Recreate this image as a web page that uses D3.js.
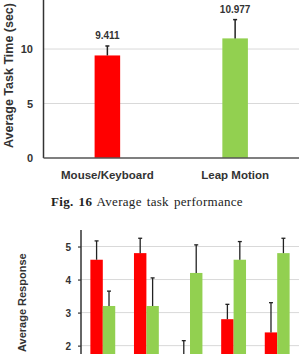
<!DOCTYPE html>
<html lang="en">
<head>
<meta charset="utf-8">
<script src="https://d3js.org/d3.v7.min.js"></script>
<style>
body { margin: 0; background: #fff; }
svg { display: block; }
.lbl { font-family: "Liberation Sans", Arial, sans-serif; font-weight: bold; fill: #333; }
.cap { font-family: "Liberation Serif", "Times New Roman", serif; fill: #222; }
</style>
</head>
<body>
<div id="chart"></div>
<script>
// top chart: average task time
var taskCats = ["Mouse/Keyboard", "Leap Motion"];
var taskMeans = [9.411, 10.977];
var taskErrTop = [10.28, 12.7];
var taskTicks = [0, 5, 10];

// bottom chart: average response (two series, 5 questions)
var respGroups = ["Q1", "Q2", "Q3", "Q4", "Q5"];
var respMouse = [4.6, 4.8, 1.6, 2.8, 2.4];
var respMouseErr = [5.17, 5.25, 2.15, 3.25, 3.3];
var respLeap = [3.2, 3.2, 4.2, 4.6, 4.8];
var respLeapErr = [3.65, 4.05, 5.05, 5.15, 5.25];
var respTicks = [2, 3, 4, 5];

var colorList = ["#ff0000", "#92d050"];

let width = 299;
let height = 354;

let svg = d3.select("#chart")
    .append("svg")
    .attr("width", width)
    .attr("height", height);

//---- top chart
let x1 = d3.scaleBand().domain(taskCats).range([43.5, 299]).paddingInner(0.8).paddingOuter(0.4);
let y1 = d3.scaleLinear().domain([0, 14.5]).range([158, 0]);

svg.selectAll(".grid1").data(taskTicks.filter(d => d > 0)).enter()
    .append("line")
    .attr("x1", 43.5).attr("x2", 299)
    .attr("y1", d => y1(d)).attr("y2", d => y1(d))
    .attr("stroke", "#d9d9d9").attr("stroke-width", 1);

svg.selectAll(".bar1").data(taskMeans).enter()
    .append("rect")
    .attr("x", (d, i) => x1(taskCats[i]))
    .attr("width", x1.bandwidth())
    .attr("y", d => y1(d))
    .attr("height", d => y1(0) - y1(d))
    .attr("fill", (d, i) => colorList[i]);

// error bars (upper only)
taskMeans.forEach(function(d, i) {
    let cx = x1(taskCats[i]) + x1.bandwidth() / 2;
    svg.append("line").attr("x1", cx).attr("x2", cx)
        .attr("y1", y1(d)).attr("y2", y1(taskErrTop[i]))
        .attr("stroke", "#222").attr("stroke-width", 1.5);
    svg.append("line").attr("x1", cx - 2).attr("x2", cx + 2)
        .attr("y1", y1(taskErrTop[i])).attr("y2", y1(taskErrTop[i]))
        .attr("stroke", "#222").attr("stroke-width", 1.5);
    svg.append("text").attr("class", "lbl")
        .attr("x", cx).attr("y", y1(taskErrTop[i]) - 7)
        .attr("text-anchor", "middle").attr("font-size", 10)
        .text(d.toFixed(3));
});

// axes lines
svg.append("line").attr("x1", 43.5).attr("x2", 43.5).attr("y1", 0).attr("y2", y1(0))
    .attr("stroke", "#333").attr("stroke-width", 1.5);
svg.append("line").attr("x1", 43.5).attr("x2", 299).attr("y1", y1(0)).attr("y2", y1(0))
    .attr("stroke", "#555").attr("stroke-width", 1.5);

svg.selectAll(".tick1").data(taskTicks).enter()
    .append("text").attr("class", "lbl")
    .attr("x", 33).attr("y", d => y1(d) + 4)
    .attr("text-anchor", "end").attr("font-size", 11)
    .text(d => d);

svg.selectAll(".cat1").data(taskCats).enter()
    .append("text").attr("class", "lbl")
    .attr("x", d => x1(d) + x1.bandwidth() / 2).attr("y", 179)
    .attr("text-anchor", "middle").attr("font-size", 11.5)
    .text(d => d);

svg.append("text").attr("class", "lbl")
    .attr("transform", "translate(13,148) rotate(-90)")
    .attr("font-size", 12.5)
    .text("Average Task Time (sec)");

let cap = svg.append("text").attr("class", "cap")
    .attr("x", 147).attr("y", 206).attr("text-anchor", "middle")
    .attr("font-size", 13).attr("letter-spacing", 0.3).attr("word-spacing", 1.5);
cap.append("tspan").attr("font-weight", "bold").text("Fig. 16");
cap.append("tspan").text(" Average task performance");

//---- bottom chart
let x2 = d3.scaleBand().domain(respGroups).range([81, 299]).paddingInner(0.43).paddingOuter(0.215);
let xs = d3.scaleBand().domain([0, 1]).range([0, x2.bandwidth()]);
let y2 = d3.scaleLinear().domain([0, 5.5]).range([411.7, 230]);

svg.selectAll(".grid2").data(respTicks).enter()
    .append("line")
    .attr("x1", 81).attr("x2", 299)
    .attr("y1", d => y2(d)).attr("y2", d => y2(d))
    .attr("stroke", "#d9d9d9").attr("stroke-width", 1);

let series = [respMouse, respLeap];
let seriesErr = [respMouseErr, respLeapErr];

series.forEach(function(vals, s) {
    vals.forEach(function(d, i) {
        let bx = x2(respGroups[i]) + xs(s);
        svg.append("rect")
            .attr("x", bx).attr("width", xs.bandwidth())
            .attr("y", y2(d)).attr("height", y2(0) - y2(d))
            .attr("fill", colorList[s]);
        let cx = bx + xs.bandwidth() / 2;
        let e = seriesErr[s][i];
        svg.append("line").attr("x1", cx).attr("x2", cx)
            .attr("y1", y2(d)).attr("y2", y2(e))
            .attr("stroke", "#222").attr("stroke-width", 1.3);
        svg.append("line").attr("x1", cx - 2).attr("x2", cx + 2)
            .attr("y1", y2(e)).attr("y2", y2(e))
            .attr("stroke", "#222").attr("stroke-width", 1.3);
    });
});

let yAxis2 = d3.axisLeft(y2).tickValues(respTicks).tickSize(3).tickFormat(d3.format("d"));
let gy2 = svg.append("g").attr("transform", "translate(81,0)").call(yAxis2);
gy2.select(".domain").remove();
gy2.selectAll(".tick line").attr("stroke", "#333").attr("stroke-width", 1.2);
gy2.selectAll(".tick text").attr("class", "lbl").attr("font-size", 10).attr("x", -10).attr("dy", "0.35em");
svg.append("line").attr("x1", 81).attr("x2", 81).attr("y1", 230).attr("y2", 354)
    .attr("stroke", "#333").attr("stroke-width", 1.5);

svg.append("text").attr("class", "lbl")
    .attr("transform", "translate(26,352) rotate(-90)")
    .attr("font-size", 11)
    .text("Average Response");
</script>
</body>
</html>
